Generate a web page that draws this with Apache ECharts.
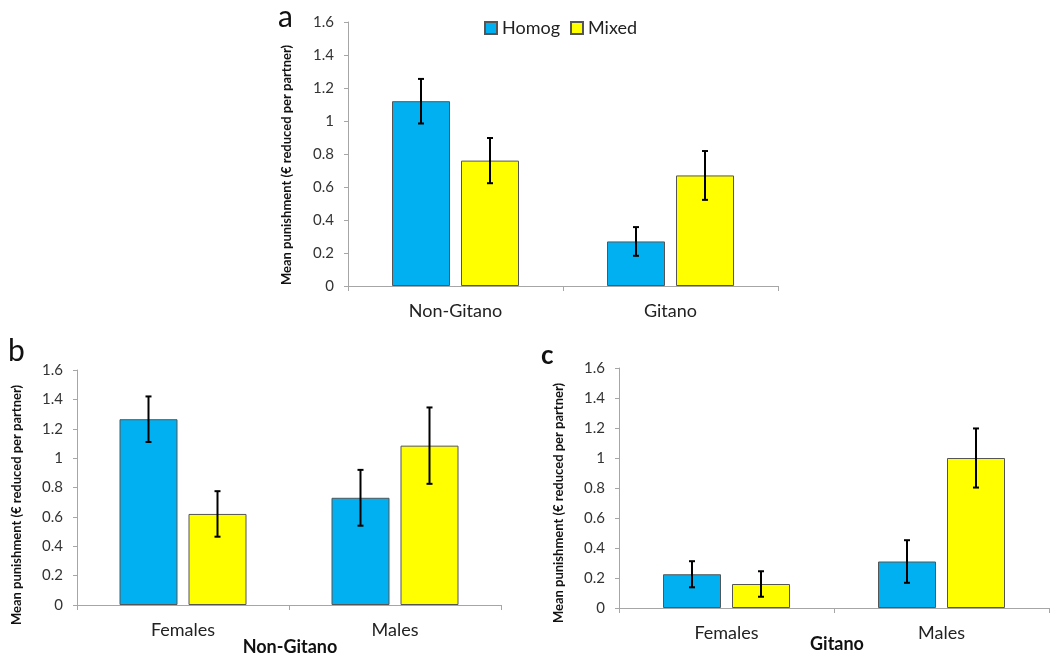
<!DOCTYPE html>
<html>
<head>
<meta charset="utf-8">
<script src="https://cdn.jsdelivr.net/npm/echarts@6/dist/echarts.min.js"></script>
<style>html,body{margin:0;padding:0;background:#fff;}#c{width:1050px;height:655px;}</style>
</head>
<body>
<div id="c"></div>
<script>
// ---- data ----
const seriesNames = ['Homog', 'Mixed'];
const catsA = ['Non-Gitano', 'Gitano'];
const catsBC = ['Females', 'Males'];
const yTicks = [0, 0.2, 0.4, 0.6, 0.8, 1, 1.2, 1.4, 1.6];

const aHomog = [1.12, 0.27];
const aHomogErr = [0.135, 0.087];
const aMixed = [0.76, 0.67];
const aMixedErr = [0.137, 0.148];

const bHomog = [1.265, 0.73];
const bHomogErr = [0.155, 0.19];
const bMixed = [0.62, 1.085];
const bMixedErr = [0.155, 0.26];

const cHomog = [0.225, 0.31];
const cHomogErr = [0.087, 0.142];
const cMixed = [0.16, 1.0];
const cMixedErr = [0.085, 0.197];

const yName = 'Mean punishment (€ reduced per partner)';
const xNameB = 'Non-Gitano';
const xNameC = 'Gitano';

// ---- styles ----
const BLUE = '#00B0F0', YELLOW = '#FFFF00';
const FONT = 'Lato, "Open Sans", sans-serif';
const BAR_W = 58, BAR_GAP = 11;
const OFF = (BAR_W + BAR_GAP) / 2;

function yAxis(gi) {
  return {
    type: 'value', gridIndex: gi, min: yTicks[0], max: yTicks[yTicks.length - 1], interval: 0.2,
    axisLine: {show: true, lineStyle: {color: '#a6a6a6', width: 1}},
    axisTick: {show: true, length: 4, lineStyle: {color: '#a6a6a6'}},
    splitLine: {show: false},
    axisLabel: {fontFamily: FONT, fontSize: 15, color: '#333', margin: 14,
      formatter: v => String(+v.toFixed(1))}
  };
}
function xAxis(gi, cats) {
  return {
    type: 'category', gridIndex: gi, data: cats,
    axisLine: {show: true, lineStyle: {color: '#a6a6a6', width: 1}},
    axisTick: {show: true, length: 5, alignWithLabel: false, lineStyle: {color: '#a6a6a6'}},
    axisLabel: {fontFamily: FONT, fontSize: 18, color: '#222', margin: 16}
  };
}
function bar(name, gi, data, color) {
  return {
    name: name, type: 'bar', xAxisIndex: gi, yAxisIndex: gi, data: data,
    barWidth: BAR_W, barGap: (BAR_GAP / BAR_W * 100) + '%',
    itemStyle: {color: color, borderColor: '#555', borderWidth: 1},
    emphasis: {disabled: true}
  };
}
function errs(gi, h, he, m, me) {
  const d = [];
  h.forEach((v, i) => d.push([i, v, he[i], 0]));
  m.forEach((v, i) => d.push([i, v, me[i], 1]));
  return {
    type: 'custom', xAxisIndex: gi, yAxisIndex: gi, data: d, z: 10,
    renderItem: function (params, api) {
      const ci = api.value(0), v = api.value(1), e = api.value(2), s = api.value(3);
      const top = api.coord([ci, v + e]);
      const bot = api.coord([ci, v - e]);
      const x = top[0] + (s === 0 ? -OFF : OFF);
      const st = {stroke: '#000', lineWidth: 2};
      return {type: 'group', children: [
        {type: 'line', shape: {x1: x, y1: top[1], x2: x, y2: bot[1]}, style: st},
        {type: 'line', shape: {x1: x - 3, y1: top[1], x2: x + 3, y2: top[1]}, style: st},
        {type: 'line', shape: {x1: x - 3, y1: bot[1], x2: x + 3, y2: bot[1]}, style: st}
      ]};
    }
  };
}
function yTitle(x, y) {
  return {type: 'text', x: x, y: y, rotation: Math.PI / 2,
    style: {text: yName, fontFamily: FONT, fontSize: 13, fontWeight: 'bold', fill: '#111',
      align: 'center', verticalAlign: 'middle'}};
}
function xTitle(text, x, y) {
  return {type: 'text', x: x, y: y,
    style: {text: text, fontFamily: FONT, fontSize: 18, fontWeight: 'bold', fill: '#111',
      align: 'center', verticalAlign: 'middle'}};
}

const chart = echarts.init(document.getElementById('c'), null, {renderer: 'canvas'});
chart.setOption({
  backgroundColor: '#fff',
  animation: false,
  legend: {
    data: seriesNames, top: 14, left: 479, itemWidth: 12, itemHeight: 12, itemGap: 10,
    icon: 'rect',
    textStyle: {fontFamily: FONT, fontSize: 18, color: '#222'}
  },
  grid: [
    {left: 348, right: 272, top: 22, bottom: 369, containLabel: false, outerBoundsMode: 'none'},
    {left: 77, right: 549, top: 370, bottom: 50, containLabel: false, outerBoundsMode: 'none'},
    {left: 619, right: 1, top: 368, bottom: 47, containLabel: false, outerBoundsMode: 'none'}
  ],
  xAxis: [xAxis(0, catsA), xAxis(1, catsBC), xAxis(2, catsBC)],
  yAxis: [yAxis(0), yAxis(1), yAxis(2)],
  graphic: [
    {type: 'text', left: 278, top: 2, style: {text: 'a', fontFamily: FONT, fontSize: 30, fill: '#111'}},
    {type: 'text', left: 8, top: 336, style: {text: 'b', fontFamily: FONT, fontSize: 30, fill: '#111'}},
    {type: 'text', left: 541, top: 343, style: {text: 'c', fontFamily: FONT, fontSize: 26, fontWeight: 'bold', fill: '#111'}},
    yTitle(287, 165), yTitle(17, 505), yTitle(559, 503),
    xTitle(xNameB, 290, 647), xTitle(xNameC, 837, 644)
  ],
  series: [
    bar('Homog', 0, aHomog, BLUE), bar('Mixed', 0, aMixed, YELLOW),
    bar('Homog', 1, bHomog, BLUE), bar('Mixed', 1, bMixed, YELLOW),
    bar('Homog', 2, cHomog, BLUE), bar('Mixed', 2, cMixed, YELLOW),
    errs(0, aHomog, aHomogErr, aMixed, aMixedErr),
    errs(1, bHomog, bHomogErr, bMixed, bMixedErr),
    errs(2, cHomog, cHomogErr, cMixed, cMixedErr)
  ]
});
</script>
</body>
</html>
